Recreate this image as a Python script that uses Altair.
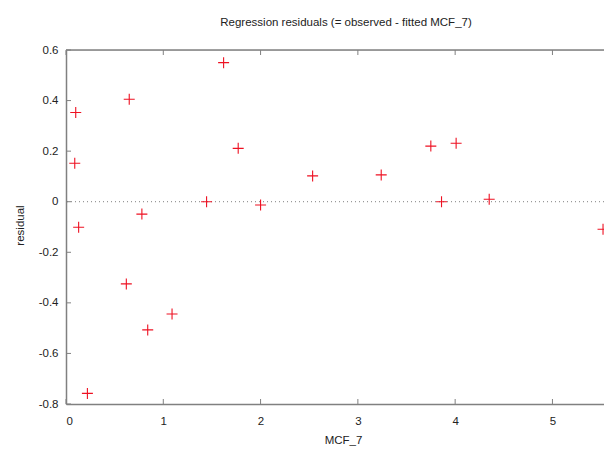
import altair as alt
import pandas as pd

# data
mcf7 = [0.10, 0.09, 0.13, 0.22, 0.65, 0.62, 0.78, 0.84, 1.09, 1.445,
        1.62, 1.77, 2.00, 2.535, 3.24, 3.75, 3.86, 4.01, 4.35, 5.52]
residual = [0.353, 0.152, -0.101, -0.758, 0.405, -0.325, -0.049, -0.507, -0.444, 0.0,
            0.55, 0.211, -0.013, 0.102, 0.106, 0.22, 0.0, 0.231, 0.01, -0.109]
x_ticks = [0, 1, 2, 3, 4, 5]
y_ticks = [-0.8, -0.6, -0.4, -0.2, 0, 0.2, 0.4, 0.6]

W, H = 538, 354
FONT = "Liberation Sans"
TXT = "#222222"
AX = "#808080"

pts = pd.DataFrame({"x": mcf7, "y": residual})
xt = pd.DataFrame({"x": x_ticks})
yt = pd.DataFrame({"y": y_ticks})
zero = pd.DataFrame({"y": [0]})
one = pd.DataFrame({"k": [0]})

xscale = alt.Scale(domain=[0, 5.53], nice=False, zero=False)
yscale = alt.Scale(domain=[-0.8, 0.6], nice=False, zero=False)

xaxis = alt.Axis(values=x_ticks, tickSize=0, grid=False, labelPadding=11,
                 labelExpr="format(datum.value, 'd')",
                 labelFontSize=11.5, labelFont=FONT, labelColor=TXT,
                 domainColor=AX, domainWidth=1.5,
                 titleFont=FONT, titleFontSize=11.5, titleColor=TXT, titleFontWeight="normal",
                 titleX=277, titleY=36, titleBaseline="middle", titleAnchor="middle")
yaxis = alt.Axis(values=y_ticks, tickSize=0, grid=False, labelPadding=8,
                 labelExpr="replace(format(datum.value, '.1~f'), '\u2212', '-')",
                 labelFontSize=11.5, labelFont=FONT, labelColor=TXT,
                 domainColor=AX, domainWidth=1.5,
                 titleFont=FONT, titleFontSize=11.5, titleColor=TXT, titleFontWeight="normal",
                 titleX=-46, titleY=175, titleBaseline="middle", titleAngle=-90,
                 titleAnchor="middle")

points = alt.Chart(pts).mark_point(
    shape="M-1,0L1,0M0,-1L0,1", filled=False, stroke="#ee1122",
    strokeWidth=1.1, size=121, opacity=1
).encode(
    x=alt.X("x:Q", title="MCF_7", scale=xscale, axis=xaxis),
    y=alt.Y("y:Q", title="residual", scale=yscale, axis=yaxis),
)

zline = alt.Chart(zero).mark_rule(color="#999999", strokeDash=[1, 3], strokeWidth=1.2).encode(
    y=alt.Y("y:Q", title="residual")
)

bottom_ticks = alt.Chart(xt).mark_rule(color=AX, strokeWidth=1).encode(
    x=alt.X("x:Q", title="MCF_7"), y=alt.value(H), y2=alt.value(H - 5)
)
top_ticks = alt.Chart(xt).mark_rule(color=AX, strokeWidth=1).encode(
    x=alt.X("x:Q", title="MCF_7"), y=alt.value(0), y2=alt.value(5)
)
left_ticks = alt.Chart(yt).mark_rule(color=AX, strokeWidth=1).encode(
    y=alt.Y("y:Q", title="residual"), x=alt.value(0), x2=alt.value(5)
)
top_frame = alt.Chart(one).mark_rule(color=AX, strokeWidth=1.5).encode(
    y=alt.value(0), x=alt.value(0), x2=alt.value(W)
)

chart = alt.layer(
    zline, bottom_ticks, top_ticks, left_ticks, top_frame, points
).properties(
    width=W, height=H,
    autosize="none",
    padding={"left": 58, "top": 42, "right": 0, "bottom": 44},
    title=alt.TitleParams(
        "Regression residuals (= observed - fitted MCF_7)",
        font=FONT, fontSize=11.5, fontWeight="normal", color=TXT,
        anchor="middle", frame="group", dx=11, offset=16,
    ),
).configure_view(stroke=None).configure(background="white")

chart.save("out.html", embed_options={"renderer": "svg", "actions": False})
